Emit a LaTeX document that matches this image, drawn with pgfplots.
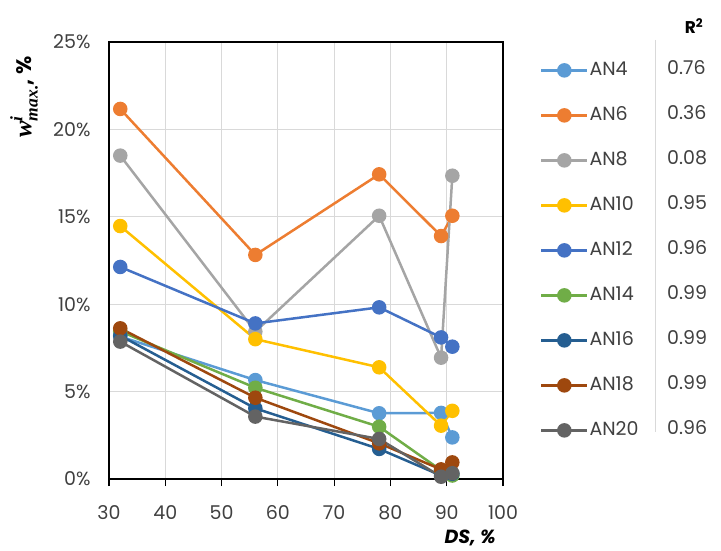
\documentclass[border=0pt]{standalone}
\usepackage{amsmath}
\usepackage{fontspec}
\setsansfont{Poppins}
\newfontfamily\cambria{Liberation Serif}
\usepackage{pgfplots}
\pgfplotsset{compat=1.18}
\definecolor{cAN4}{HTML}{5B9BD5}
\definecolor{cAN6}{HTML}{ED7D31}
\definecolor{cAN8}{HTML}{A5A5A5}
\definecolor{cAN10}{HTML}{FFC000}
\definecolor{cAN12}{HTML}{4472C4}
\definecolor{cAN14}{HTML}{70AD47}
\definecolor{cAN16}{HTML}{255E91}
\definecolor{cAN18}{HTML}{9E480E}
\definecolor{cAN20}{HTML}{636363}
\definecolor{gridc}{HTML}{D9D9D9}
\definecolor{txt}{HTML}{404040}
\begin{document}
\begin{tikzpicture}
\useasboundingbox (0pt,0pt) rectangle (721pt,-551pt);
\begin{axis}[
  at={(109pt,-479pt)}, anchor=south west,
  scale only axis, width=394pt, height=437pt,
  xmin=30, xmax=100, ymin=0, ymax=25,
  xtick={30,40,...,100}, ytick={0,5,...,25},
  grid=major, major grid style={gridc, line width=1pt},
  axis line style={black, line width=1.5pt},
  tick align=outside, xtick pos=bottom, ytick pos=left,
  major tick length=7pt,
  xtick style={black, line width=1.2pt},
  ytick style={draw=none},
  /pgf/number format/assume math mode=true,
  tick label style={font=\sffamily\fontsize{19}{22}\selectfont, text=txt},
  xticklabel style={yshift=-16pt},
  yticklabel style={xshift=-8pt},
  yticklabel={\pgfmathprintnumber{\tick}\%},
  clip=false,
  every axis plot/.append style={line width=2.5pt, mark=*, mark size=6pt},
  legend style={at={(1.086,0.963)}, anchor=north west, draw=none,
    font=\sffamily\fontsize{19}{22}\selectfont, text=txt,
    row sep=25pt, nodes={inner sep=1pt, text height=14pt, text depth=4pt}},
  legend cell align=left,
  legend image code/.code={\draw[mark repeat=2, mark phase=2] plot coordinates {(0pt,0pt) (23pt,0pt) (46pt,0pt)};},
]
\addplot[cAN4] coordinates {(32,8.15)(56,5.66)(78,3.76)(89,3.78)(91,2.38)};
\addlegendentry{AN4}
\addplot[cAN6] coordinates {(32,21.17)(56,12.82)(78,17.43)(89,13.9)(91,15.06)};
\addlegendentry{AN6}
\addplot[cAN8] coordinates {(32,18.5)(56,8.43)(78,15.06)(89,6.94)(91,17.35)};
\addlegendentry{AN8}
\addplot[cAN10] coordinates {(32,14.47)(56,8.0)(78,6.39)(89,3.05)(91,3.9)};
\addlegendentry{AN10}
\addplot[cAN12] coordinates {(32,12.13)(56,8.9)(78,9.82)(89,8.1)(91,7.57)};
\addlegendentry{AN12}
\addplot[cAN14] coordinates {(32,8.45)(56,5.22)(78,2.99)(89,0.5)(91,0.2)};
\addlegendentry{AN14}
\addplot[cAN16] coordinates {(32,8.2)(56,4.04)(78,1.72)(89,0.2)(91,0.3)};
\addlegendentry{AN16}
\addplot[cAN18] coordinates {(32,8.62)(56,4.65)(78,2.04)(89,0.55)(91,0.95)};
\addlegendentry{AN18}
\addplot[cAN20] coordinates {(32,7.86)(56,3.57)(78,2.29)(89,0.13)(91,0.33)};
\addlegendentry{AN20}
\end{axis}
\node[rotate=90, anchor=center, font=\fontsize{25}{27}\selectfont] at (24pt,-97pt) {{\cambria\bfseries\itshape w$^{\text{\cambria\bfseries\itshape i}}_{\text{\cambria\bfseries\itshape max.}}$}{\sffamily\bfseries\fontsize{21}{24}\selectfont, \%}};
\node[anchor=center, font=\sffamily\bfseries\itshape\fontsize{19}{22}\selectfont] at (470pt,-538pt) {DS, \%};
\node[anchor=center, font=\sffamily\bfseries\fontsize{17}{20}\selectfont] at (694pt,-26pt) {R\textsuperscript{2}};
\draw[gridc, line width=1pt] (655pt,-40pt) -- (655pt,-432pt);
\foreach \v [count=\i from 0] in {0.76,0.36,0.08,0.95,0.96,0.99,0.99,0.99,0.96} {
  \node[anchor=west, text=txt, inner sep=0pt, font=\sffamily\fontsize{19}{22}\selectfont] at (667pt,{-68pt-45pt*\i}) {\v};
}
\end{tikzpicture}
\end{document}
